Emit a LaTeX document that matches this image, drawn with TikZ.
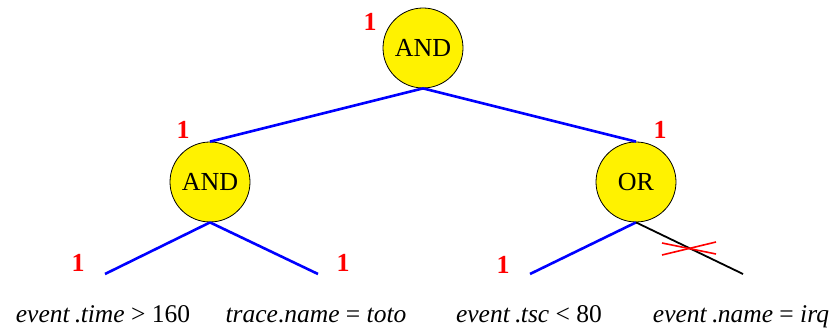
\documentclass[tikz,border=0pt]{standalone}
\usepackage{fontspec}
\setmainfont{Liberation Serif}
\begin{document}
\begin{tikzpicture}[x=1pt,y=-1pt,
  gate/.style={circle,draw=black,line width=0.8pt,fill=yellow,minimum size=80pt,inner sep=0pt,
    font=\fontsize{26}{30}\selectfont},
  live/.style={draw=blue,line width=2.6pt},
  cut/.style={draw=black,line width=1.8pt},
  mark1/.style={text=red,font=\fontsize{26}{30}\selectfont\bfseries,inner sep=0pt},
  cond/.style={font=\fontsize{25.5}{30}\selectfont,inner sep=0pt,anchor=base},
  cross/.style={draw=red,line width=1.6pt}]
\useasboundingbox (0,0) rectangle (837,328);

% gates
\node[gate] (root) at (423,48) {AND};
\node[gate] (andL) at (210,182) {AND};
\node[gate] (orR) at (636,182) {OR};

% leaf ends
\coordinate (l1) at (105,274);
\coordinate (l2) at (318,274);
\coordinate (l3) at (530,274);
\coordinate (l4) at (743,274);

% edges
\draw[live] (root.south) -- (andL.north);
\draw[live] (root.south) -- (orR.north);
\draw[live] (andL.south) -- (l1);
\draw[live] (andL.south) -- (l2);
\draw[live] (orR.south) -- (l3);
\draw[cut] (orR.south) -- (l4);

% pruned branch
\coordinate (c1) at (662,243);
\coordinate (c2) at (716,254);
\coordinate (c3) at (662,255);
\coordinate (c4) at (716,242);
\draw[cross] (c1) -- (c2);
\draw[cross] (c3) -- (c4);

% truth values
\node[mark1] (v0) at (370,22) {1};
\node[mark1] (v1) at (183,130) {1};
\node[mark1] (v2) at (660,130) {1};
\node[mark1] (v3) at (78,263) {1};
\node[mark1] (v4) at (343,263) {1};
\node[mark1] (v5) at (503,265) {1};

% conditions
\node[cond] (t1) at (103,322) {\textit{event}\,.\textit{time} > 160};
\node[cond] (t2) at (316,322) {\textit{trace}.\textit{name} = \textit{toto}};
\node[cond] (t3) at (529,322) {\textit{event}\,.\textit{tsc} < 80};
\node[cond] (t4) at (741,322) {\textit{event}\,.\textit{name} = \textit{irq}};
\end{tikzpicture}
\end{document}
